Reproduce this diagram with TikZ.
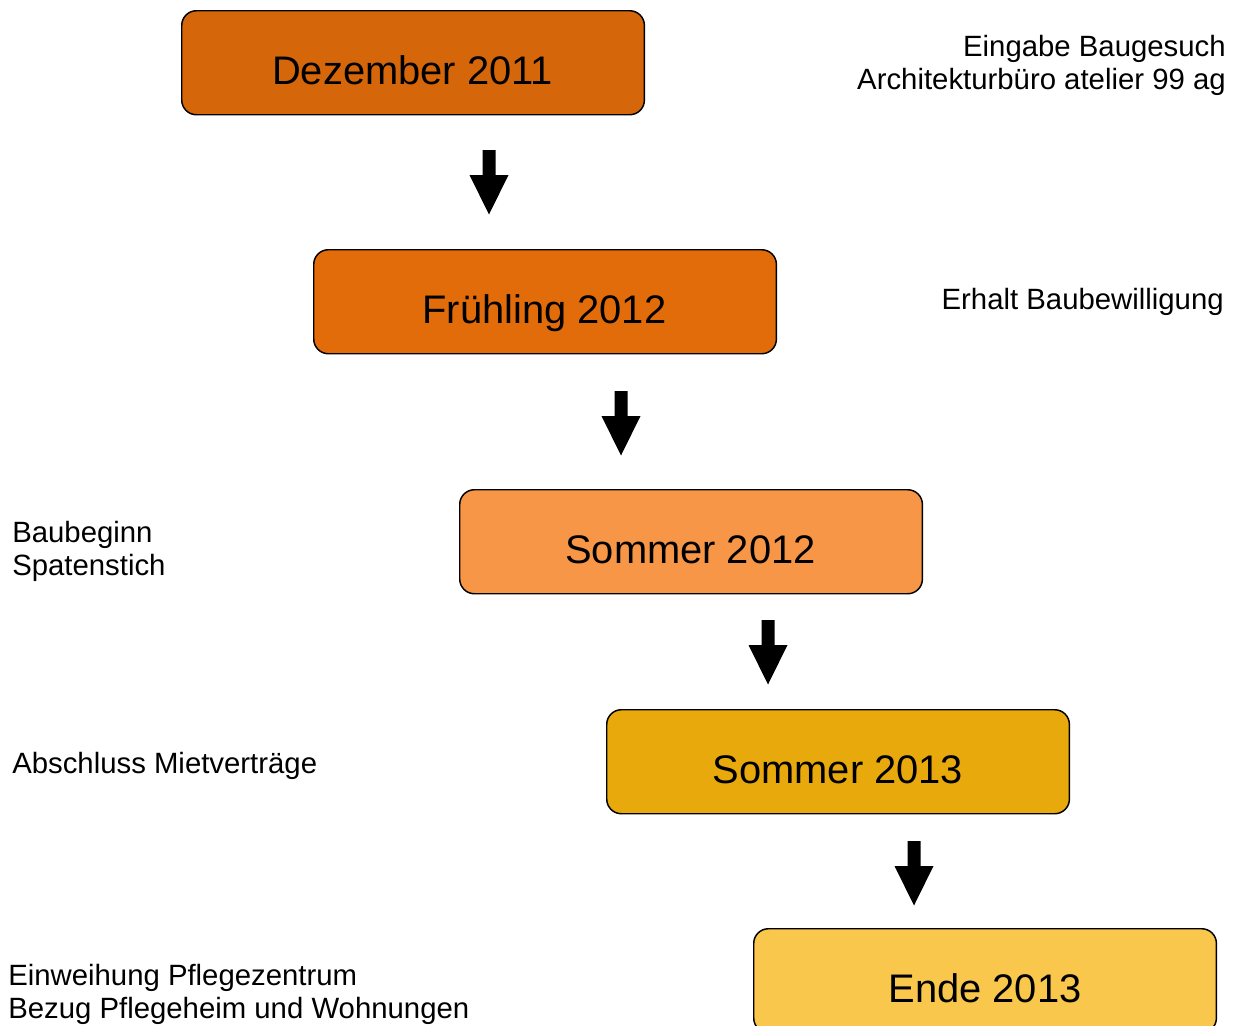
\documentclass[tikz,border=0pt]{standalone}
\usepackage{fontspec}
\setmainfont{Liberation Sans}
\definecolor{cA}{HTML}{D6660A}
\definecolor{cB}{HTML}{E36C0A}
\definecolor{cC}{HTML}{F79646}
\definecolor{cD}{HTML}{E8A90C}
\definecolor{cE}{HTML}{F8C74B}
\tikzset{
  stage/.style={draw=black, line width=1.1pt, rounded corners=11pt, anchor=north west,
    minimum width=347pt, minimum height=78pt, inner sep=0pt},
  stagetext/.style={anchor=base, inner sep=0pt, font=\fontsize{29.9}{34}\selectfont},
  note/.style={inner sep=0pt, font=\fontsize{22}{24.75}\selectfont},
  blockarrow/.style={fill=black, draw=none}
}
\newcommand{\downarrowat}[1]{%
  \fill[blockarrow] ($(#1)+(-6.5,0)$) -- ($(#1)+(6.5,0)$) -- ($(#1)+(6.5,25)$) -- ($(#1)+(19.5,25)$)
    -- ($(#1)+(0,64.5)$) -- ($(#1)+(-19.5,25)$) -- ($(#1)+(-6.5,25)$) -- cycle;}
\usetikzlibrary{calc}
\begin{document}
\begin{tikzpicture}[x=0.75pt, y=-0.75pt]
\useasboundingbox (0,0) rectangle (1239,1025);
\clip (0,0) rectangle (1239,1025);

\node[stage, fill=cA] (b1) at (181,10) {};
\node[stage, fill=cB] (b2) at (313,249) {};
\node[stage, fill=cC] (b3) at (459,489) {};
\node[stage, fill=cD] (b4) at (606,709) {};
\node[stage, fill=cE] (b5) at (753,928) {};

\node[stagetext] (t1) at (412.5,84) {Dezember 2011};
\node[stagetext] (t2) at (544.5,323) {Frühling 2012};
\node[stagetext] (t3) at (690.5,563) {Sommer 2012};
\node[stagetext] (t4) at (838,783) {Sommer 2013};
\node[stagetext] (t5) at (985,1002) {Ende 2013};

\coordinate (a1) at (489,150);
\coordinate (a2) at (621,391);
\coordinate (a3) at (768,620);
\coordinate (a4) at (914,841);
\downarrowat{a1}
\downarrowat{a2}
\downarrowat{a3}
\downarrowat{a4}

\node[note, anchor=base east, align=right] (n1) at (1226,89) {Eingabe Baugesuch\\Architekturbüro atelier 99 ag};
\node[note, anchor=base east] (n2) at (1224,309) {Erhalt Baubewilligung};
\node[note, anchor=base west, align=left] (n3) at (12,575) {Baubeginn\\Spatenstich};
\node[note, anchor=base west] (n4) at (12,773) {Abschluss Mietverträge};
\node[note, anchor=base west, align=left] (n5) at (8,1018) {Einweihung Pflegezentrum\\Bezug Pflegeheim und Wohnungen};
\end{tikzpicture}
\end{document}
